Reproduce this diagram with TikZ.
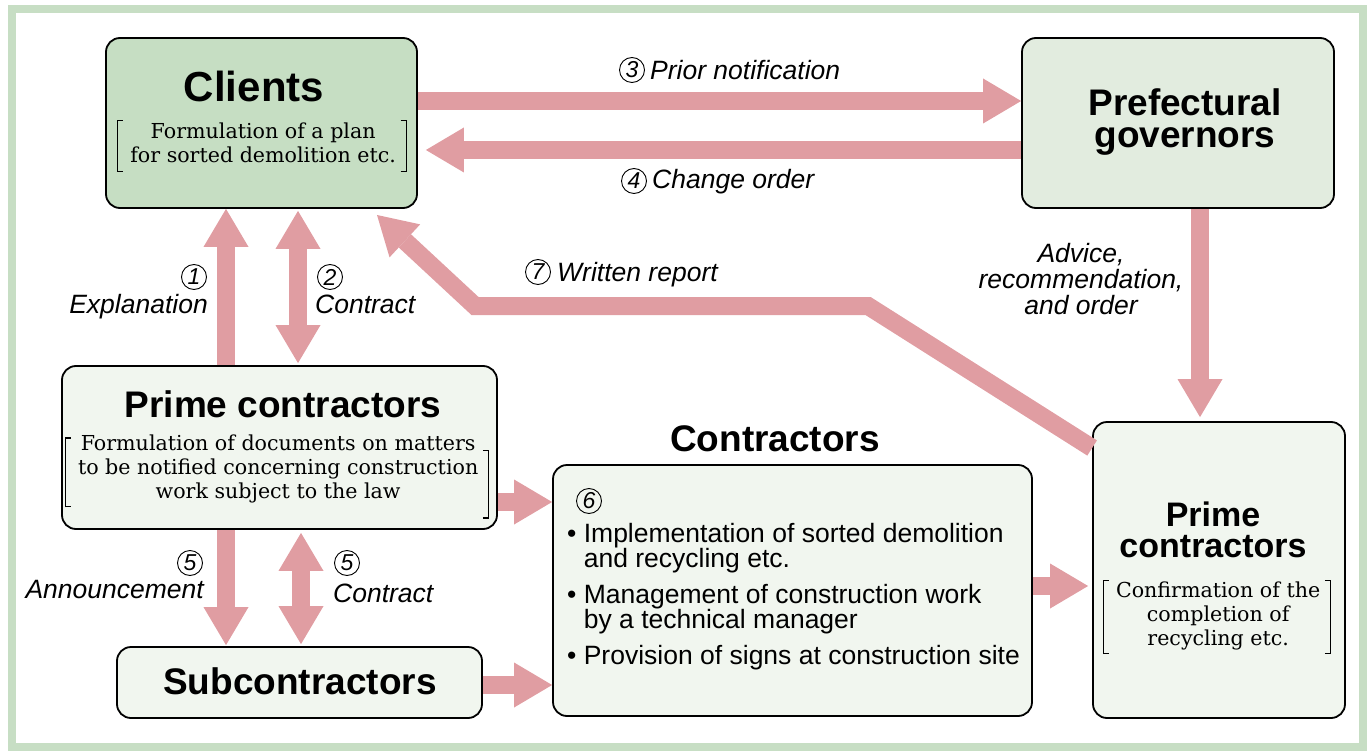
\documentclass[tikz,border=0pt]{standalone}
\usepackage{fontspec}
\setsansfont{Liberation Sans}
\newfontfamily\notefont{DejaVu Serif}
\usetikzlibrary{arrows.meta}

\definecolor{framegreen}{RGB}{199,222,196}
\definecolor{clientgreen}{RGB}{198,222,195}
\definecolor{govgreen}{RGB}{226,236,223}
\definecolor{palegreen}{RGB}{241,246,239}
\definecolor{arrowpink}{RGB}{224,157,162}

% square brackets of a given height, built from rules
\newcommand{\lbrk}[1]{\vcenter{\hbox{\vrule width 1.3pt height #1\vbox to #1{\hrule width 5pt height 1.3pt\vfill\hrule width 5pt height 1.3pt}}}}
\newcommand{\rbrk}[1]{\vcenter{\hbox{\vbox to #1{\hrule width 5pt height 1.3pt\vfill\hrule width 5pt height 1.3pt}\vrule width 1.3pt height #1}}}
% bracketed remark inside a box
\newcommand{\remark}[2]{$\lbrk{#1}\mkern6mu\begin{tabular}{@{}c@{}}#2\end{tabular}\mkern4mu\rbrk{#1}$}

\tikzset{
  box/.style={draw=black, line width=1.8pt, rounded corners=14pt, fill=palegreen, inner sep=0pt},
  boxtitle/.style={font=\sffamily\bfseries\fontsize{37}{32}\selectfont, inner sep=0pt, align=center},
  note/.style={font=\notefont\fontsize{20.6}{24}\selectfont, inner sep=0pt},
  lbl/.style={font=\sffamily\itshape\fontsize{26.5}{26}\selectfont, inner sep=0pt},
  stepnum/.style={circle, draw=black, line width=0.9pt, inner sep=0pt, minimum size=25pt,
    font=\sffamily\itshape\fontsize{23}{23}\selectfont},
  pipe/.style={draw=arrowpink, line width=18pt},
  onehead/.style={-{Triangle[length=38pt,width=45pt,line width=0pt]}},
  twohead/.style={{Triangle[length=38pt,width=45pt,line width=0pt]}-{Triangle[length=38pt,width=45pt,line width=0pt]}},
}

\begin{document}
\begin{tikzpicture}[x=1pt, y=-1pt]
  \useasboundingbox (0,0) rectangle (1370,751);
  \draw[framegreen, line width=8pt] (12,9.5) rectangle (1363,746.5);

  % boxes
  \node[box, fill=clientgreen, minimum width=311pt, minimum height=170pt] (clients) at (261.5,123) {};
  \node[box, fill=govgreen, minimum width=312pt, minimum height=170pt] (gov) at (1178,123) {};
  \node[box, minimum width=435pt, minimum height=163pt] (prime) at (279.5,447.5) {};
  \node[box, minimum width=365pt, minimum height=71pt] (sub) at (299.5,682.5) {};
  \node[box, minimum width=479pt, minimum height=251pt] (contr) at (792.5,590.5) {};
  \node[box, minimum width=252pt, minimum height=296pt] (prime2) at (1219,570) {};

  % box texts
  \node[boxtitle, font=\sffamily\bfseries\fontsize{42}{42}\selectfont, anchor=base] (clientstt) at (254,102) {Clients};
  \node[note] (clientsnote) at (262,146) {\remark{52pt}{Formulation of a plan\\for sorted demolition etc.}};
  \node[boxtitle] (govtt) at (1185,122) {Prefectural\\governors};
  \node[boxtitle, anchor=base] (primett) at (283,417) {Prime contractors};
  \node[note] (primenote) at (277,476)
    {$\raisebox{-3pt}{$\lbrk{70pt}$}\mkern6mu
     \begin{tabular}{@{}c@{}}Formulation of documents on matters\\to be notified concerning construction\\work subject to the law\end{tabular}
     \mkern4mu\raisebox{-15pt}{$\rbrk{69pt}$}$};
  \node[boxtitle, anchor=base] (subtt) at (300,694) {Subcontractors};
  \node[boxtitle, anchor=base] (contrtt) at (775,451) {Contractors};
  \node[boxtitle, font=\sffamily\bfseries\fontsize{34}{31}\selectfont] (prime2tt) at (1213,530) {Prime\\contractors};
  \node[note] (prime2note) at (1217,617) {\remark{74pt}{Confirmation of the\\completion of\\recycling etc.}};

  \node[stepnum] (n6) at (589,501) {6};
  \node[font=\sffamily\fontsize{26.5}{25}\selectfont, inner sep=0pt, align=left, anchor=north west] (items) at (567,523)
    {\textbullet\ Implementation of sorted demolition\\
     \hphantom{\textbullet\ }and recycling etc.\\[11pt]
     \textbullet\ Management of construction work\\
     \hphantom{\textbullet\ }by a technical manager\\[11pt]
     \textbullet\ Provision of signs at construction site};

  % arrows
  \draw[pipe, onehead] (clients.east |- 0,101) -- (gov.west |- 0,101);
  \draw[pipe, onehead, shorten >=8pt] (gov.west |- 0,150) -- (clients.east |- 0,150);
  \draw[pipe, onehead] (prime.north -| 226,0) -- (clients.south -| 226,0);
  \draw[pipe, twohead, shorten <=2pt, shorten >=2pt] (prime.north -| 298,0) -- (clients.south -| 298,0);
  \draw[pipe, onehead, shorten >=4pt] (gov.south -| 1200,0) -- (prime2.north -| 1200,0);
  \coordinate (wr1) at (868,306);
  \coordinate (wr2) at (475,306);
  \coordinate (wr3) at (377,215);
  \draw[pipe, onehead, line join=miter] (prime2.west |- 0,448) -- (wr1) -- (wr2) -- (wr3);
  \draw[pipe, onehead, shorten >=1pt] (prime.south -| 226,0) -- (sub.north -| 226,0);
  \draw[pipe, twohead, shorten <=3pt, shorten >=2pt] (prime.south -| 301,0) -- (sub.north -| 301,0);
  \draw[pipe, onehead] (prime.east |- 0,502) -- (contr.west |- 0,502);
  \draw[pipe, onehead] (sub.east |- 0,685) -- (contr.west |- 0,685);
  \draw[pipe, onehead, shorten >=4pt] (contr.east |- 0,586) -- (prime2.west |- 0,586);

  % arrow labels
  \node[stepnum] (d3) at (632,70) {3};
  \node[lbl, anchor=base west] (l3) at (650,80) {Prior notification};
  \node[stepnum] (d4) at (634,181) {4};
  \node[lbl, anchor=base west] (l4) at (652,189) {Change order};
  \node[stepnum] (d1) at (194,277) {1};
  \node[lbl, anchor=base east] (l1) at (208,313) {Explanation};
  \node[stepnum] (d2) at (330,277) {2};
  \node[lbl, anchor=base west] (l2) at (315,313) {Contract};
  \node[stepnum] (d7) at (538,272) {7};
  \node[lbl, anchor=base west] (l7) at (557,282) {Written report};
  \node[lbl, align=center] (ladv) at (1081,279) {Advice,\\recommendation,\\and order};
  \node[stepnum] (d5a) at (190,563) {5};
  \node[lbl, anchor=base east] (l5a) at (204,598) {Announcement};
  \node[stepnum] (d5b) at (347,563) {5};
  \node[lbl, anchor=base west] (l5b) at (333,602) {Contract};
\end{tikzpicture}
\end{document}
